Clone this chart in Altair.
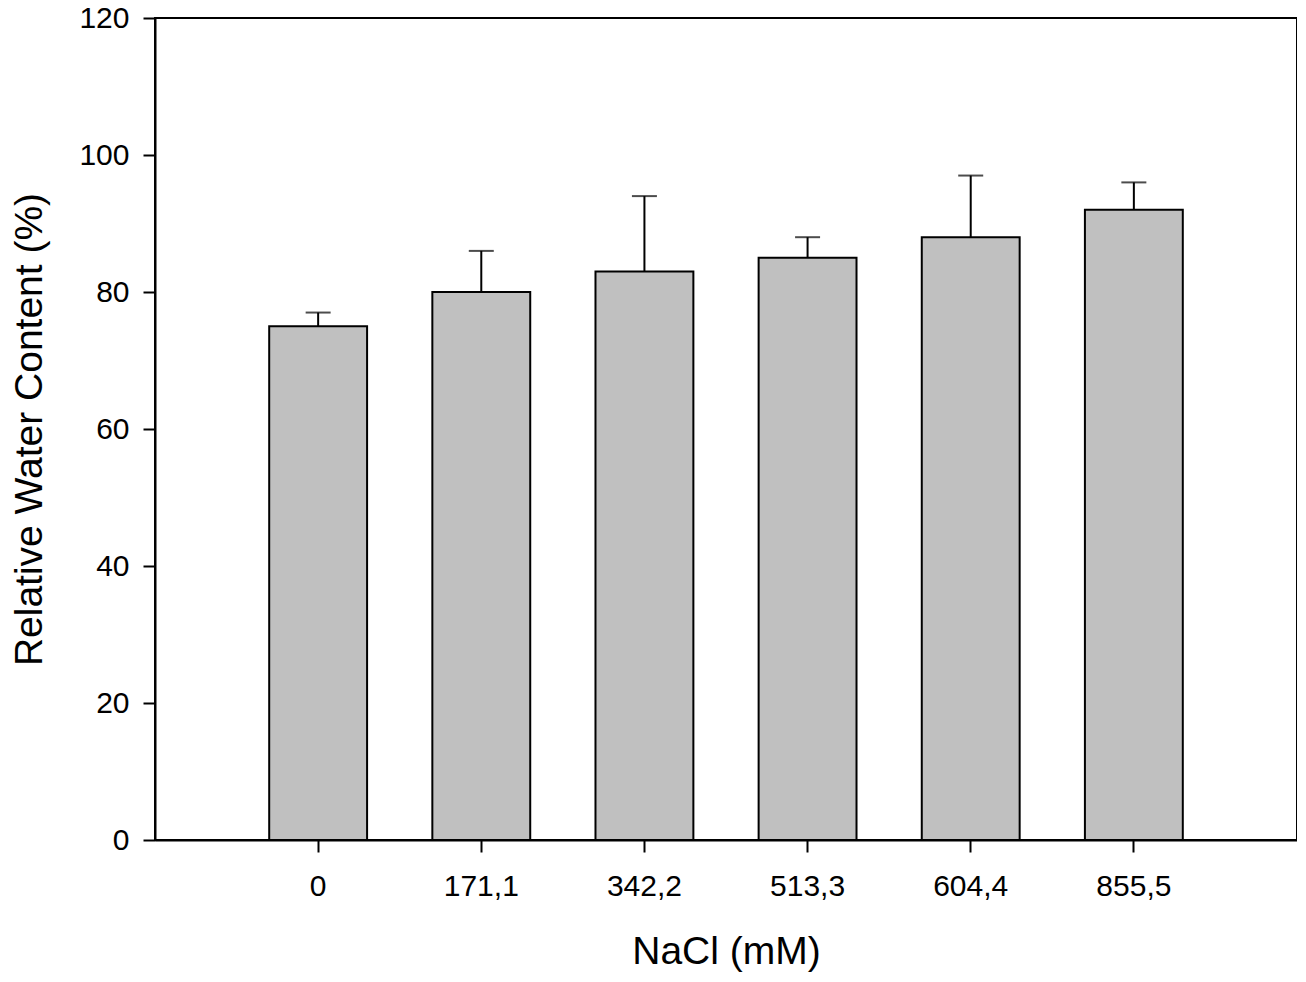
import altair as alt
import pandas as pd

categories = ["0", "171,1", "342,2", "513,3", "604,4", "855,5"]
means = [75, 80, 83, 85, 88, 92]
errors = [2, 6, 11, 3, 9, 4]

df = pd.DataFrame({
    "nacl": categories,
    "mean": means,
    "top": [m + e for m, e in zip(means, errors)],
})

FONT = "Liberation Sans"

x = alt.X(
    "nacl:N",
    sort=None,
    scale=alt.Scale(paddingInner=0.4, paddingOuter=0.7),
    axis=alt.Axis(
        title="NaCl (mM)",
        labelAngle=0,
        labelFontSize=30,
        titleFontSize=39,
        labelPadding=19,
        titlePadding=31,
        tickSize=12,
    ),
)

y_axis = alt.Axis(
    title="Relative Water Content (%)",
    values=[0, 20, 40, 60, 80, 100, 120],
    labelFontSize=30,
    titleFontSize=39,
    labelPadding=14,
    titlePadding=29,
    tickSize=12,
    grid=False,
)

base = alt.Chart(df)

bars = base.mark_bar(fill="#c0c0c0", stroke="black", strokeWidth=2).encode(
    x=x,
    y=alt.Y("mean:Q", scale=alt.Scale(domain=[0, 120], nice=False), axis=y_axis),
)

err = base.mark_rule(color="black", strokeWidth=2).encode(
    x=alt.X("nacl:N", sort=None),
    y="mean:Q",
    y2="top:Q",
)

caps = base.mark_tick(color="black", thickness=2, size=25).encode(
    x=alt.X("nacl:N", sort=None),
    y="top:Q",
)

chart = (
    alt.layer(bars, err, caps)
    .properties(
        width=1142,
        height=822,
        background="white",
        autosize=alt.AutoSizeParams(type="none"),
        padding={"left": 147, "top": 10, "right": 0, "bottom": 134},
    )
    .configure_view(stroke="black", strokeWidth=2)
    .configure_axis(
        domainColor="black",
        domainWidth=2,
        tickColor="black",
        tickWidth=2,
        labelColor="black",
        titleColor="black",
        labelFont=FONT,
        titleFont=FONT,
        titleFontWeight="normal",
    )
)

chart.save("out.html", embed_options={"renderer": "svg", "actions": False})
